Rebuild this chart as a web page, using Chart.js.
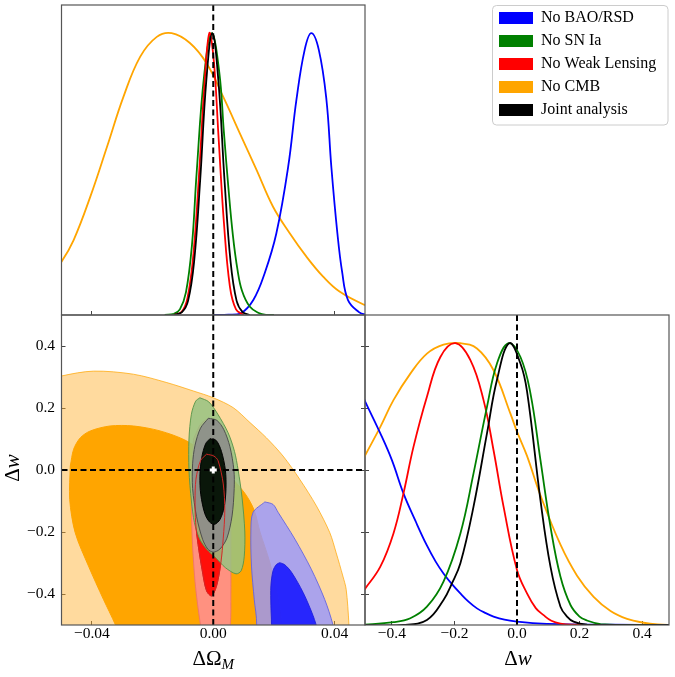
<!DOCTYPE html>
<html><head><meta charset="utf-8">
<script src="https://cdn.jsdelivr.net/npm/chart.js@4.4.1/dist/chart.umd.min.js"></script>
<style>
html,body{margin:0;padding:0;background:#fff;}
#wrap{position:relative;width:675px;height:677px;overflow:hidden;}
canvas{position:absolute;left:0;top:0;}
</style></head><body>
<div id="wrap">
<canvas id="cTop" width="675" height="677"></canvas>
<canvas id="cMain" width="675" height="677"></canvas>
<canvas id="cRight" width="675" height="677"></canvas>
<canvas id="cLeg" width="178" height="300" style="left:492px;top:3px"></canvas>
</div>
<script>
// ---------- series / legend ----------
const seriesNames  = ['No BAO/RSD', 'No SN Ia', 'No Weak Lensing', 'No CMB', 'Joint analysis'];
const seriesColors = ['#0000ff', '#008000', '#ff0000', '#ffa500', '#000000'];

// ---------- tick values / labels ----------
const omTickVals   = [-0.04, 0.0, 0.04];
const omTickLabels = ['\u22120.04', '0.00', '0.04'];
const wTickVals    = [-0.4, -0.2, 0.0, 0.2, 0.4];
const wTickLabels  = ['\u22120.4', '\u22120.2', '0.0', '0.2', '0.4'];
const omRange = [-0.05, 0.05];
const wRange  = [-0.5, 0.5];
const wRangeRight = [-0.486, 0.486];
const densRange = [0, 1.1];
const fiducial = [0.0, 0.0];

// ---------- 1D marginals for Delta Omega_M : [x, density] ----------
const omBao = [[0,0],[0.005,0.001],[0.009,0.005],[0.0132,0.053],[0.017,0.15],[0.0208,0.29],[0.0247,0.527],[0.0274,0.763],[0.0301,0.94],[0.0323,1.0],[0.0348,0.94],[0.0373,0.763],[0.0389,0.527],[0.0409,0.29],[0.0425,0.15],[0.0444,0.053],[0.048,0.01],[0.05,0.002],[0.055,0]];
const omSn  = [[-0.016,0],[-0.013,0.004],[-0.011,0.02],[-0.009,0.08],[-0.007,0.25],[-0.0055,0.5],[-0.003,0.85],[-0.0005,1.0],[0.002,0.86],[0.0035,0.65],[0.005,0.45],[0.0065,0.28],[0.008,0.16],[0.0095,0.085],[0.012,0.03],[0.015,0.007],[0.0175,0],[0.02,0]];
const omWl  = [[-0.013,0],[-0.0105,0.01],[-0.0085,0.06],[-0.0065,0.22],[-0.0045,0.53],[-0.003,0.8],[-0.0013,1.0],[0.0002,0.9],[0.0017,0.64],[0.0035,0.33],[0.0055,0.1],[0.0075,0.02],[0.01,0]];
const omCmb = [[-0.055,0.12],[-0.05,0.189],[-0.046,0.266],[-0.0405,0.42],[-0.035,0.597],[-0.0296,0.774],[-0.0241,0.916],[-0.0186,0.987],[-0.0137,1.0],[-0.0077,0.965],[-0.0022,0.893],[0.0033,0.774],[0.0088,0.644],[0.0143,0.514],[0.0197,0.384],[0.0252,0.29],[0.0307,0.207],[0.0362,0.136],[0.0416,0.083],[0.05,0.035],[0.055,0.02]];
const omJoint = [[-0.013,0],[-0.0103,0.01],[-0.0083,0.05],[-0.0063,0.19],[-0.0043,0.48],[-0.0023,0.83],[-0.0003,1.0],[0.0017,0.83],[0.0037,0.48],[0.0057,0.19],[0.0077,0.05],[0.0097,0.01],[0.012,0]];

// ---------- 1D marginals for Delta w : [w, density] ----------
const wBao = [[-0.5,0.83],[-0.485,0.792],[-0.437,0.68],[-0.4,0.585],[-0.363,0.467],[-0.325,0.37],[-0.289,0.284],[-0.26,0.225],[-0.235,0.183],[-0.208,0.145],[-0.181,0.112],[-0.155,0.083],[-0.128,0.059],[-0.1,0.042],[-0.075,0.03],[-0.04,0.019],[0,0.012],[0.05,0.007],[0.14,0.003],[0.3,0.001],[0.5,0]];
const wSn  = [[-0.5,0],[-0.395,0.01],[-0.341,0.024],[-0.288,0.065],[-0.235,0.154],[-0.181,0.325],[-0.139,0.538],[-0.096,0.774],[-0.064,0.928],[-0.027,1.0],[0.011,0.951],[0.043,0.822],[0.075,0.585],[0.107,0.349],[0.139,0.171],[0.171,0.071],[0.2,0.03],[0.224,0.016],[0.267,0.003],[0.35,0],[0.5,0]];
const wWl  = [[-0.5,0.11],[-0.485,0.13],[-0.437,0.207],[-0.395,0.325],[-0.363,0.467],[-0.331,0.632],[-0.288,0.81],[-0.245,0.951],[-0.197,1.0],[-0.149,0.94],[-0.107,0.798],[-0.075,0.62],[-0.043,0.42],[0,0.195],[0.032,0.112],[0.06,0.06],[0.085,0.035],[0.11,0.015],[0.139,0.005],[0.18,0.001],[0.25,0],[0.5,0]];
const wCmb = [[-0.5,0.57],[-0.485,0.603],[-0.437,0.703],[-0.395,0.798],[-0.341,0.892],[-0.288,0.963],[-0.235,0.995],[-0.181,1.0],[-0.128,0.981],[-0.075,0.904],[-0.021,0.75],[0,0.686],[0.032,0.6],[0.075,0.46],[0.139,0.285],[0.192,0.175],[0.245,0.1],[0.299,0.05],[0.352,0.022],[0.405,0.008],[0.45,0.002],[0.5,0]];
const wJoint = [[-0.5,0],[-0.363,0],[-0.288,0.018],[-0.235,0.089],[-0.208,0.148],[-0.181,0.219],[-0.139,0.42],[-0.096,0.68],[-0.064,0.87],[-0.025,1.0],[0.011,0.928],[0.032,0.83],[0.075,0.443],[0.107,0.207],[0.139,0.065],[0.16,0.03],[0.181,0.012],[0.224,0.001],[0.3,0],[0.5,0]];

// ---------- 2D credible regions (Delta Omega_M, Delta w) ----------
const cmbOuter = [[-0.062,0.27],[-0.0501,0.303],[-0.0394,0.319],[-0.0263,0.309],[-0.0153,0.282],[-0.0066,0.255],[0,0.233],[0.0066,0.201],[0.0121,0.153],[0.0175,0.104],[0.023,0.045],[0.0285,-0.03],[0.034,-0.116],[0.0384,-0.202],[0.0405,-0.267],[0.0427,-0.342],[0.0438,-0.385],[0.0447,-0.498],[0.0448,-0.58],[0.03,-0.65],[-0.062,-0.65],[-0.07,0.2],[-0.062,0.27]];
const cmbInner = [[-0.0471,0.013],[-0.046,0.067],[-0.0438,0.104],[-0.0405,0.126],[-0.034,0.142],[-0.0263,0.142],[-0.0175,0.126],[-0.0088,0.094],[-0.002,0.045],[0.005,-0.015],[0.0104,-0.075],[0.0135,-0.13],[0.0154,-0.2],[0.0186,-0.297],[0.021,-0.4],[0.0225,-0.5],[0.022,-0.58],[-0.029,-0.58],[-0.0323,-0.498],[-0.0362,-0.417],[-0.0411,-0.31],[-0.0455,-0.202],[-0.0473,-0.095],[-0.0471,0.013]];
const baoOuter = [[0.017,-0.103],[0.0197,-0.111],[0.0214,-0.137],[0.0269,-0.223],[0.0323,-0.32],[0.0367,-0.417],[0.0394,-0.498],[0.041,-0.58],[0.013,-0.58],[0.0143,-0.498],[0.0135,-0.417],[0.0126,-0.31],[0.0124,-0.2],[0.0131,-0.137],[0.017,-0.103]];
const baoInner = [[0.0219,-0.299],[0.0235,-0.305],[0.0258,-0.33],[0.0296,-0.395],[0.0329,-0.47],[0.0345,-0.52],[0.036,-0.58],[0.019,-0.58],[0.0192,-0.498],[0.019,-0.438],[0.019,-0.373],[0.0197,-0.325],[0.0208,-0.305],[0.0219,-0.299]];
const wlOuter = [[-0.0065,0.1],[-0.004,0.15],[-0.001,0.165],[0.0025,0.14],[0.0048,0.08],[0.0055,0],[0.0057,-0.1],[0.0058,-0.2],[0.0058,-0.3],[0.0058,-0.4],[0.0056,-0.5],[0.004,-0.57],[0,-0.6],[-0.003,-0.57],[-0.0042,-0.5],[-0.0052,-0.43],[-0.006,-0.36],[-0.0066,-0.28],[-0.007,-0.2],[-0.0072,-0.1],[-0.0071,0],[-0.0065,0.1]];
const wlInner = [[-0.0022,0.051],[0.0002,0.045],[0.0016,0.03],[0.0033,-0.045],[0.0038,-0.132],[0.0033,-0.22],[0.0025,-0.3],[0.0012,-0.37],[-0.0005,-0.406],[-0.0022,-0.39],[-0.0037,-0.32],[-0.005,-0.24],[-0.0058,-0.17],[-0.006,-0.1],[-0.0057,-0.03],[-0.0042,0.03],[-0.0022,0.051]];
const snOuter = [[-0.0044,0.233],[-0.0015,0.22],[0.0015,0.18],[0.0049,0.12],[0.007,0.06],[0.0082,0.0],[0.0095,-0.09],[0.0104,-0.2],[0.0102,-0.28],[0.0092,-0.325],[0.0075,-0.335],[0.004,-0.315],[0.001,-0.285],[-0.0022,-0.255],[-0.0045,-0.222],[-0.0062,-0.17],[-0.0072,-0.1],[-0.008,0],[-0.008,0.1],[-0.0072,0.18],[-0.0058,0.222],[-0.0044,0.233]];
const jointOuter = [[-0.0016,0.167],[0.0012,0.16],[0.0035,0.13],[0.0055,0.075],[0.0068,0.0],[0.0069,-0.06],[0.0062,-0.148],[0.0045,-0.22],[0.0022,-0.255],[0,-0.265],[-0.0018,-0.255],[-0.0035,-0.224],[-0.0055,-0.15],[-0.0068,-0.06],[-0.0068,0.02],[-0.006,0.08],[-0.0042,0.135],[-0.0016,0.167]];
const jointInner = [[-0.0011,0.101],[0.001,0.095],[0.0027,0.06],[0.004,0.0],[0.0042,-0.06],[0.0036,-0.12],[0.0022,-0.16],[0.0005,-0.175],[-0.0012,-0.168],[-0.0028,-0.14],[-0.0041,-0.08],[-0.0044,-0.02],[-0.0038,0.04],[-0.0025,0.085],[-0.0011,0.101]];

// ---------- helpers ----------
const SERIF = "'Liberation Serif', 'Times New Roman', 'DejaVu Serif', serif";
Chart.defaults.font.family = SERIF;
Chart.defaults.color = '#000';
const tickFont = {family: SERIF, size: 15.5};
const pts = a => a.map(p => ({x: p[0], y: p[1]}));
const labelOf = (vals, labels) => v => {
  const i = vals.findIndex(t => Math.abs(t - v) < 1e-9);
  return i >= 0 ? labels[i] : '';
};
const setTicks = vals => s => { s.ticks = vals.map(v => ({value: v})); };
const inGrid = {drawOnChartArea: false, drawTicks: true, tickLength: -4, tickColor: '#444', tickWidth: 1};

const framePlugin = {
  id: 'frame',
  afterDatasetsDraw(chart) {
    const {ctx, chartArea: a} = chart;
    ctx.save();
    ctx.strokeStyle = '#555';
    ctx.lineWidth = 1.2;
    ctx.strokeRect(a.left, a.top, a.right - a.left, a.bottom - a.top);
    ctx.restore();
  }
};
const titlePlugin = {
  id: 'mathTitles',
  afterDraw(chart, args, opts) {
    const ctx = chart.ctx;
    (opts.items || []).forEach(it => {
      ctx.save();
      ctx.translate(it.x, it.y);
      if (it.rot) ctx.rotate(it.rot);
      let total = 0;
      const parts = it.parts.map(p => { ctx.font = p.font; const w = ctx.measureText(p.text).width; total += w; return Object.assign({w}, p); });
      let x = -total / 2;
      ctx.fillStyle = '#000';
      ctx.textBaseline = 'alphabetic';
      parts.forEach(p => { ctx.font = p.font; ctx.fillText(p.text, x, p.dy || 0); x += p.w; });
      ctx.restore();
    });
  }
};

const curve = (data, color) => ({
  data: pts(data), borderColor: color, backgroundColor: color, borderWidth: 1.8,
  fill: false, pointRadius: 0, tension: 0.4, yAxisID: 'y'
});
const dashed = data => ({
  data: pts(data), borderColor: '#000', borderWidth: 2, borderDash: [6, 3.5],
  fill: false, pointRadius: 0, tension: 0, yAxisID: 'y'
});
const region = (data, fillColor, lineColor) => ({
  data: pts(data), backgroundColor: fillColor, borderColor: lineColor, borderWidth: 1,
  fill: 'shape', pointRadius: 0, tension: 0.3, capBezierPoints: false, yAxisID: 'y'
});
const withOrder = list => list.map((d, i) => Object.assign(d, {order: list.length - i}));
const baseOpts = {responsive: false, animation: false, events: [], maintainAspectRatio: false};

// ---------- top panel: 1D Omega_M ----------
new Chart(document.getElementById('cTop'), {
  type: 'line',
  data: {datasets: withOrder([
    curve(omCmb, seriesColors[3]),
    curve(omBao, seriesColors[0]),
    curve(omSn, seriesColors[1]),
    curve(omWl, seriesColors[2]),
    curve(omJoint, seriesColors[4]),
    dashed([[fiducial[0], densRange[0]], [fiducial[0], densRange[1]]])
  ])},
  options: Object.assign({}, baseOpts, {
    layout: {padding: {left: 61.5, top: 5, right: 310, bottom: 362}},
    plugins: {legend: {display: false}, tooltip: {enabled: false}},
    scales: {
      x: {type: 'linear', position: 'bottom', min: omRange[0], max: omRange[1],
          afterBuildTicks: setTicks(omTickVals), afterFit: s => { s.height = 0; },
          ticks: {display: false}, grid: inGrid, border: {display: false}, z: 1},
      y: {type: 'linear', min: densRange[0], max: densRange[1], display: false}
    }
  }),
  plugins: [framePlugin]
});

// ---------- main panel: 2D ----------
new Chart(document.getElementById('cMain'), {
  type: 'line',
  data: {datasets: withOrder([
    region(cmbOuter, 'rgba(255,172,40,0.45)', 'rgba(255,165,0,0.7)'),
    region(cmbInner, '#ffa500', '#ffa500'),
    region(baoOuter, 'rgba(150,150,255,0.8)', 'rgba(100,100,225,0.9)'),
    region(baoInner, 'rgba(25,25,255,0.9)', 'rgba(30,30,220,0.9)'),
    region(wlOuter, 'rgba(255,140,160,0.8)', 'rgba(240,115,110,0.9)'),
    region(wlInner, 'rgba(255,10,5,0.97)', 'rgba(230,30,30,1)'),
    region(snOuter, 'rgba(150,195,130,0.85)', 'rgba(90,150,75,0.95)'),
    region(jointOuter, 'rgba(140,140,140,0.85)', 'rgba(70,70,70,0.9)'),
    region(jointInner, 'rgba(0,14,0,0.93)', 'rgba(0,0,0,1)'),
    Object.assign(region(wlInner, 'rgba(0,0,0,0)', 'rgba(215,35,35,0.95)'), {fill: false}),
    dashed([[fiducial[0], wRange[0]], [fiducial[0], wRange[1]]]),
    dashed([[omRange[0], fiducial[1]], [omRange[1], fiducial[1]]]),
    {data: pts([fiducial]), showLine: false, pointStyle: 'cross', pointRadius: 3.5,
     pointBorderWidth: 3, pointBorderColor: '#fff', pointBackgroundColor: '#fff', yAxisID: 'y'}
  ])},
  options: Object.assign({}, baseOpts, {
    layout: {padding: {left: 0, top: 315, right: 310, bottom: 0}},
    plugins: {legend: {display: false}, tooltip: {enabled: false},
      mathTitles: {items: [
        {x: 213.3, y: 665, parts: [{text: '\u0394\u03A9', font: '21px ' + SERIF}, {text: 'M', font: 'italic 15px ' + SERIF, dy: 3.5}]},
        {x: 18.5, y: 468, rot: -Math.PI / 2, parts: [{text: '\u0394', font: '21px ' + SERIF}, {text: 'w', font: 'italic 21px ' + SERIF}]}
      ]}},
    scales: {
      x: {type: 'linear', position: 'bottom', min: omRange[0], max: omRange[1],
          afterBuildTicks: setTicks(omTickVals), afterFit: s => { s.height = 52; },
          ticks: {font: tickFont, padding: 4, autoSkip: false, maxRotation: 0, callback: labelOf(omTickVals, omTickLabels)},
          grid: inGrid, border: {display: false}, z: 1},
      y: {type: 'linear', position: 'left', min: wRange[0], max: wRange[1],
          afterBuildTicks: setTicks(wTickVals), afterFit: s => { s.width = 61.5; },
          ticks: {font: tickFont, padding: 10.5, autoSkip: false, callback: labelOf(wTickVals, wTickLabels)},
          grid: inGrid, border: {display: false}, z: 1},
      yR: {type: 'linear', position: 'right', min: wRange[0], max: wRange[1],
          afterBuildTicks: setTicks(wTickVals), afterFit: s => { s.width = 0; },
          ticks: {display: false}, grid: inGrid, border: {display: false}, z: 1}
    }
  }),
  plugins: [framePlugin, titlePlugin]
});

// ---------- right panel: 1D w ----------
new Chart(document.getElementById('cRight'), {
  type: 'line',
  data: {datasets: withOrder([
    curve(wCmb, seriesColors[3]),
    curve(wBao, seriesColors[0]),
    curve(wWl, seriesColors[2]),
    curve(wSn, seriesColors[1]),
    curve(wJoint, seriesColors[4]),
    dashed([[fiducial[1], densRange[0]], [fiducial[1], densRange[1]]])
  ])},
  options: Object.assign({}, baseOpts, {
    layout: {padding: {left: 365, top: 315, right: 6, bottom: 0}},
    plugins: {legend: {display: false}, tooltip: {enabled: false},
      mathTitles: {items: [
        {x: 518, y: 665, parts: [{text: '\u0394', font: '21px ' + SERIF}, {text: 'w', font: 'italic 21px ' + SERIF}]}
      ]}},
    scales: {
      x: {type: 'linear', position: 'bottom', min: wRangeRight[0], max: wRangeRight[1],
          afterBuildTicks: setTicks(wTickVals), afterFit: s => { s.height = 52; },
          ticks: {font: tickFont, padding: 4, autoSkip: false, maxRotation: 0, callback: labelOf(wTickVals, wTickLabels)},
          grid: inGrid, border: {display: false}, z: 1},
      y: {type: 'linear', min: densRange[0], max: densRange[1], display: false},
      yw: {type: 'linear', position: 'left', min: wRange[0], max: wRange[1],
          afterBuildTicks: setTicks(wTickVals), afterFit: s => { s.width = 0; },
          ticks: {display: false}, grid: inGrid, border: {display: false}, z: 1}
    }
  }),
  plugins: [framePlugin, titlePlugin]
});

// ---------- legend ----------
const legendFrame = {
  id: 'legendFrame',
  beforeDraw(chart) {
    const ctx = chart.ctx;
    ctx.save();
    ctx.fillStyle = 'rgba(255,255,255,0.85)';
    ctx.strokeStyle = '#cccccc';
    ctx.lineWidth = 1;
    ctx.beginPath();
    ctx.roundRect(0.5, 2.5, 175.5, 119.5, 4);
    ctx.fill();
    ctx.stroke();
    ctx.restore();
  }
};
new Chart(document.getElementById('cLeg'), {
  type: 'line',
  data: {datasets: seriesNames.map((n, i) => ({label: n, data: [], backgroundColor: seriesColors[i], borderColor: seriesColors[i], borderWidth: 0}))},
  options: Object.assign({}, baseOpts, {
    layout: {padding: 0},
    scales: {x: {display: false}, y: {display: false}},
    plugins: {
      tooltip: {enabled: false},
      legend: {display: true, position: 'top', align: 'start', maxHeight: 200,
        labels: {boxWidth: 34, boxHeight: 12, padding: 7, color: '#000', font: {family: SERIF, size: 16}}}
    }
  }),
  plugins: [legendFrame]
});
</script>
</body></html>
